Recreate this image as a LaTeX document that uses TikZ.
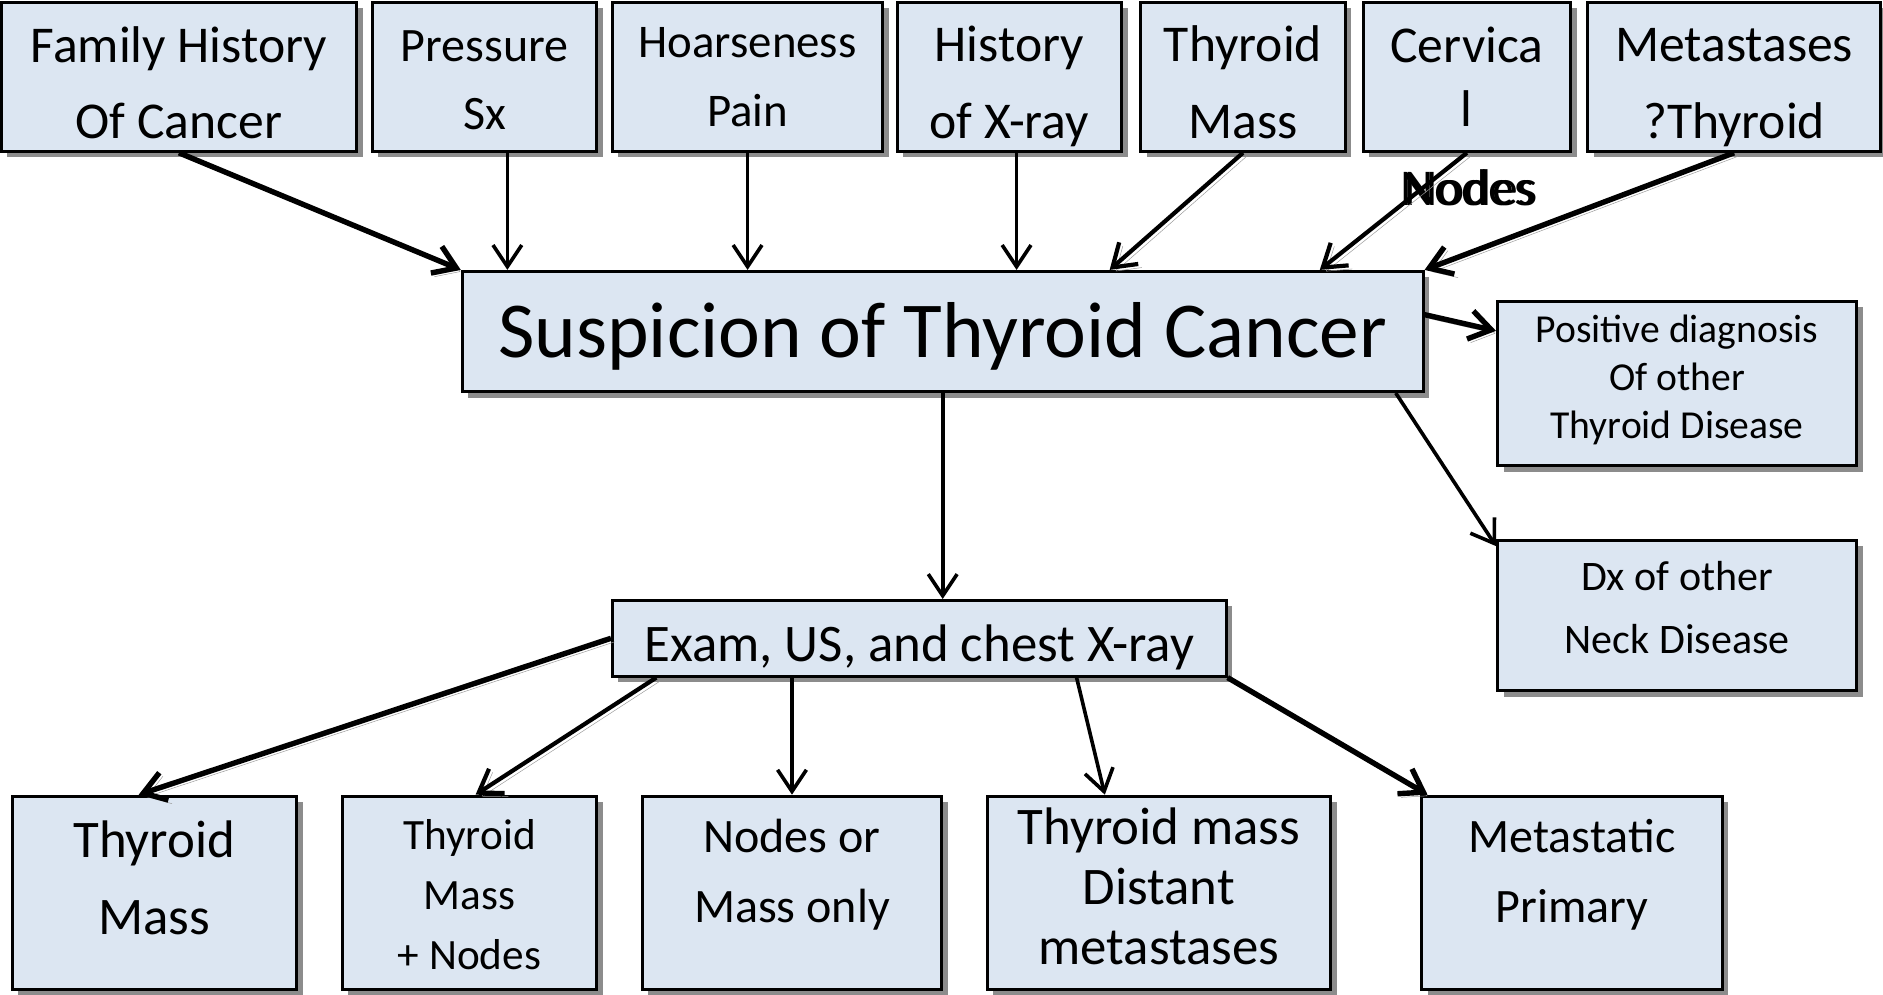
\documentclass[tikz,border=0pt]{standalone}
\usepackage{fontspec}
\setmainfont{Carlito}
\usetikzlibrary{arrows.meta,shadows}
\definecolor{boxfill}{HTML}{DCE6F2}
\newcommand{\fsz}[2]{\fontsize{#1pt}{#2pt}\selectfont}

\tikzstyle{box}=[draw,line width=2.5pt,fill=boxfill,rectangle,inner sep=0pt,align=center,drop shadow={shadow xshift=5pt,shadow yshift=-5pt,fill=black,opacity=0.45}]
\tikzstyle{arr}=[->,line width=3pt]
\tikzstyle{tarr}=[->,line width=4.5pt,preaction={draw=black!40,transform canvas={xshift=3pt,yshift=-3pt}}]

\begin{document}
\begin{tikzpicture}[x=1pt,y=-1pt,>={Straight Barb[length=18pt,width=24pt]}]
	\useasboundingbox (0,0) rectangle (1568,828);
	% top row
	\node (fam)[box,minimum width=296pt,minimum height=124pt,font=\fsz{43}{63},text height=112pt,text depth=10pt] at (149,64) {Family History\\Of Cancer};
	\node (press)[box,minimum width=187pt,minimum height=124pt,font=\fsz{40}{57},text height=98pt,text depth=10pt] at (403.5,64) {Pressure\\Sx};
	\node (hoarse)[box,minimum width=225pt,minimum height=124pt,font=\fsz{39}{57},text height=92pt,text depth=10pt] at (622.5,64) {Hoarseness\\Pain};
	\node (xray)[box,minimum width=187pt,minimum height=124pt,font=\fsz{43}{64},text height=112pt,text depth=10pt] at (840.5,64) {History\\of X-ray};
	\node (tmass)[box,minimum width=170pt,minimum height=124pt,font=\fsz{43}{64},text height=112pt,text depth=10pt] at (1035,64) {Thyroid\\Mass};
	\node (cerv)[box,minimum width=173pt,minimum height=124pt,font=\fsz{43}{53},text height=92pt,text depth=10pt] at (1221.5,64) {Cervica\\l};
	\node (meta)[box,minimum width=244pt,minimum height=124pt,font=\fsz{43}{64},text height=112pt,text depth=10pt] at (1444,64) {Metastases\\?Thyroid};
	\node (cnodes)[anchor=base,font=\fsz{43}{50}] at (1225,171) {\rlap{\kern-3pt Nodes}Nodes};

	% middle
	\node (main)[box,minimum width=800pt,minimum height=100pt,font=\fsz{66}{80},text height=62pt,text depth=18pt] at (785,276) {Suspicion of Thyroid Cancer};
	\node (pos)[box,minimum width=299pt,minimum height=137pt,font=\fsz{33}{40},text height=101pt,text depth=10pt] at (1396.5,319.5) {Positive diagnosis\\Of other\\Thyroid Disease};
	\node (dx)[box,minimum width=299pt,minimum height=125pt,font=\fsz{35}{52},text height=73pt,text depth=10pt] at (1396.5,512.5) {Dx of other\\Neck Disease};
	\node (exam)[box,minimum width=511pt,minimum height=63pt,font=\fsz{44}{50},text height=47pt,text depth=8pt] at (765.5,531.5) {Exam, US, and chest X-ray};

	% bottom row
	\node (b1)[box,minimum width=237pt,minimum height=161pt,font=\fsz{44}{64},text height=79pt,text depth=10pt] at (128.5,743.5) {Thyroid\\Mass};
	\node (b2)[box,minimum width=212pt,minimum height=161pt,font=\fsz{36}{50},text height=137pt,text depth=10pt] at (391,743.5) {Thyroid\\Mass\\+ Nodes};
	\node (b3)[box,minimum width=249pt,minimum height=161pt,font=\fsz{40}{58},text height=59pt,text depth=10pt] at (659.5,743.5) {Nodes or\\Mass only};
	\node (b4)[box,minimum width=286pt,minimum height=161pt,font=\fsz{44}{50},text height=129pt,text depth=10pt] at (965,743.5) {Thyroid mass\\Distant\\metastases};
	\node (b5)[box,minimum width=250pt,minimum height=161pt,font=\fsz{40}{58},text height=59pt,text depth=10pt] at (1309,743.5) {Metastatic\\Primary};

	% arrows into the main box
	\draw[tarr] (fam.south) -- (main.north west);
	\draw[arr] ([xshift=19pt]press.south) -- ([xshift=19pt]press.south |- main.north);
	\draw[arr] (hoarse.south) -- (hoarse.south |- main.north);
	\draw[arr] ([xshift=6pt]xray.south) -- ([xshift=6pt]xray.south |- main.north);
	\draw[tarr,line width=3.5pt] (tmass.south) -- ([xshift=139pt]main.north);
	\draw[tarr,line width=3.5pt] (cerv.south) -- ([xshift=314pt]main.north);
	\draw[tarr] (meta.south) -- (main.north east);

	% arrows out of the main box
	\draw[tarr] ([yshift=14pt]main.east) -- ([yshift=44pt]pos.west);
	\draw[arr] ([xshift=-24pt]main.south east) -- ([yshift=-6pt]dx.north west);
	\draw[arr] (main.south) -- (main.south |- exam.north);

	% arrows out of the exam box
	\draw[tarr] (exam.west) -- ([xshift=-13pt]b1.north);
	\draw[tarr,line width=3.5pt] ([xshift=-219pt]exam.south) -- ([xshift=5pt]b2.north);
	\draw[arr] (exam.south -| b3.north) -- (b3.north);
	\draw[arr] ([xshift=131pt]exam.south) -- ([xshift=-45pt]b4.north);
	\draw[tarr] (exam.south east) -- ([xshift=6pt]b5.north west);
\end{tikzpicture}
\end{document}
